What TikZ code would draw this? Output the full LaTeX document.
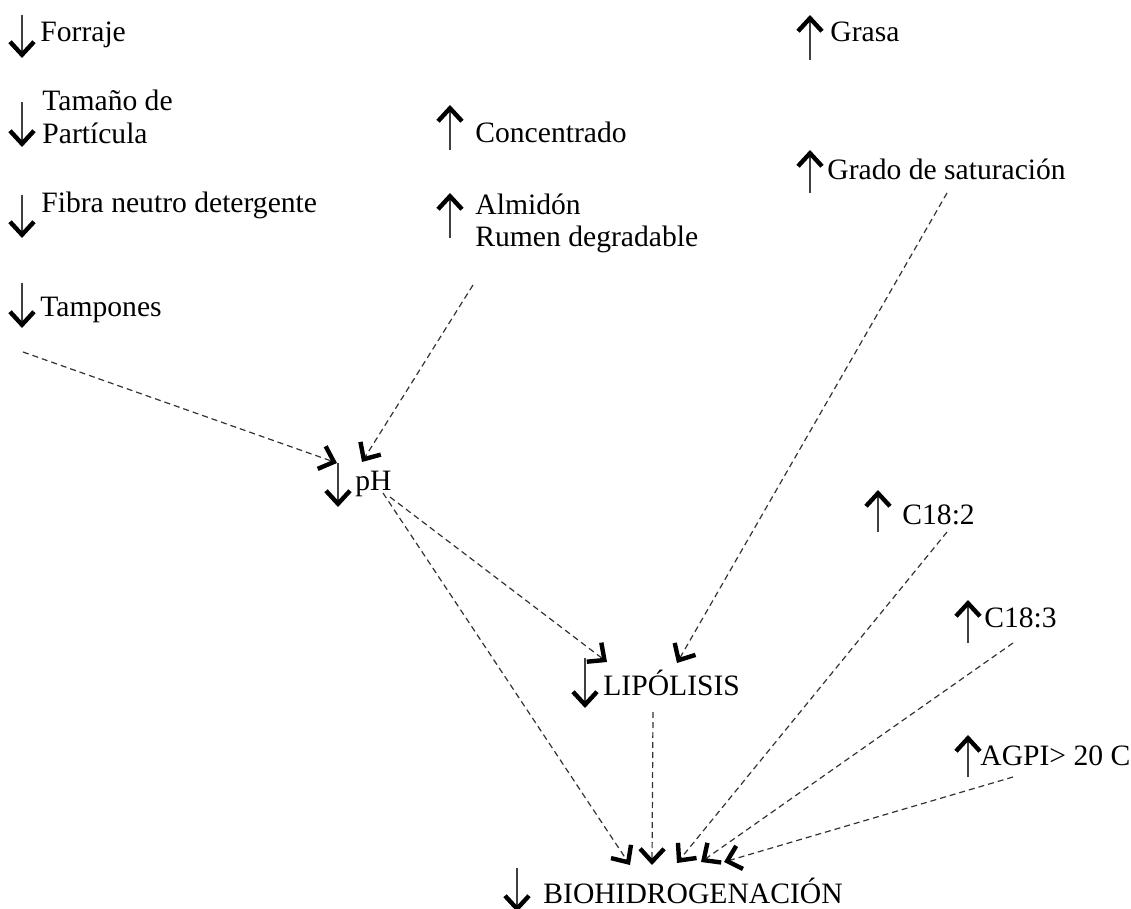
\documentclass[tikz,border=0pt]{standalone}
\usepackage{fontspec}
\setmainfont{Liberation Serif}
\usetikzlibrary{positioning,calc,arrows.meta}
\tikzset{lbl/.style={anchor=base west,inner sep=0pt,font=\fontsize{14.8}{16.5}\selectfont}}
\tikzset{tip/.tip={Straight Barb[length=6.5pt,width=12pt,line width=2.2pt,black]}}
\tikzset{sign/.style={line width=0.6pt,black!75,arrows={-tip}}}
\tikzset{dasharr/.style={line width=0.6pt,black!80,dash pattern=on 3pt off 2pt,arrows={-tip}}}

\begin{document}
\begin{tikzpicture}[x=0.5pt,y=-0.5pt]
	\useasboundingbox (0,0) rectangle (1131,909);
	\node[lbl] (forraje) at (40,42) {Forraje};
	\node[lbl] (tam1) at (42,111) {Tamaño de};
	\node[lbl] (tam2) at (42,144) {Partícula};
	\node[lbl] (fibra) at (41,213) {Fibra neutro detergente};
	\node[lbl] (tamp) at (40,317) {Tampones};
	\node[lbl] (conc) at (475,143) {Concentrado};
	\node[lbl] (alm1) at (475,215) {Almidón};
	\node[lbl] (alm2) at (475,247) {Rumen degradable};
	\node[lbl] (grasa) at (830,42) {Grasa};
	\node[lbl] (grado) at (827,180) {Grado de saturación};
	\node[lbl] (ph) at (355,490) {pH};
	\node[lbl] (lip) at (603,695) {LIPÓLISIS};
	\node[lbl] (c182) at (902,524) {C18:2};
	\node[lbl] (c183) at (984,627) {C18:3};
	\node[lbl] (agpi) at (980,765) {AGPI> 20 C};
	\node[lbl] (bio) at (543,903) {BIOHIDROGENACIÓN};

	\draw[sign] (22,15) -- (22,58);
	\draw[sign] (22,102) -- (22,147);
	\draw[sign] (22,195) -- (22,238);
	\draw[sign] (22,283) -- (22,328);
	\draw[sign] (450,150) -- (450,105);
	\draw[sign] (450,238) -- (450,193);
	\draw[sign] (810,60) -- (810,15);
	\draw[sign] (810,193) -- (810,150);
	\draw[sign] (338,463) -- (338,507);
	\draw[sign] (585,658) -- (585,708);
	\draw[sign] (878,532) -- (878,490);
	\draw[sign] (968,643) -- (968,600);
	\draw[sign] (968,777) -- (968,735);
	\draw[sign] (517,868) -- (517,912);

	\draw[dasharr] ([shift={(-17,35)}]tamp.base west) -- ([shift={(-18,-27)}]ph.base west);
	\draw[dasharr] ([shift={(-2,38)}]alm2.base west) -- ([shift={(7,-28)}]ph.base west);
	\draw[dasharr] ([shift={(120,13)}]grado.base west) -- ([shift={(74,-32)}]lip.base west);
	\draw[dasharr] ([shift={(35,7)}]ph.base west) -- ([shift={(4,-33)}]lip.base west);
	\draw[dasharr] ([shift={(28,3)}]ph.base west) -- ([shift={(87,-38)}]bio.base west);
	\draw[dasharr] ([shift={(50,17)}]lip.base west) -- ([shift={(109,-38)}]bio.base west);
	\draw[dasharr] ([shift={(45,8)}]c182.base west) -- ([shift={(134,-40)}]bio.base west);
	\draw[dasharr] ([shift={(29,16)}]c183.base west) -- ([shift={(158,-41)}]bio.base west);
	\draw[dasharr] ([shift={(33,12)}]agpi.base west) -- ([shift={(181,-41)}]bio.base west);
\end{tikzpicture}
\end{document}
